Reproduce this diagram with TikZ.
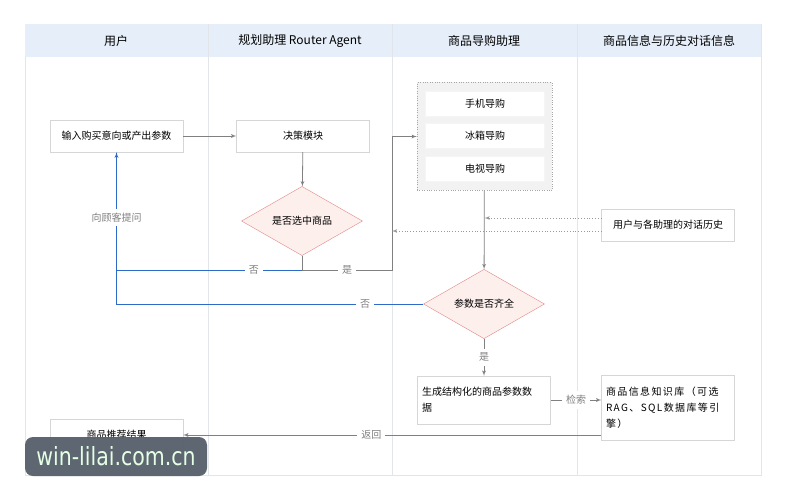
\documentclass[tikz,border=0pt]{standalone}
\usepackage{fontspec}
\setmainfont{Noto Sans CJK SC}
\newfontfamily\markfont{DejaVu Sans}
\newfontfamily\widefont[LetterSpace=14]{Noto Sans CJK SC}
\usetikzlibrary{arrows,shapes.geometric}

\definecolor{laneline}{HTML}{E2E5EA}
\definecolor{headblue}{HTML}{E6EEF9}
\definecolor{boxline}{HTML}{D6D6D6}
\definecolor{diafill}{HTML}{FCEFEC}
\definecolor{diaedge}{HTML}{E38A8A}
\definecolor{flowgray}{HTML}{808080}
\definecolor{flowblue}{HTML}{2E6BC9}
\definecolor{markgray}{HTML}{58616C}

\begin{document}
\begin{tikzpicture}[x=1pt,y=-1pt]
\tikzset{box/.style = {draw=boxline,fill=white,minimum width=133pt,minimum height=32pt,inner sep=2pt,font=\fontsize{10}{16}\selectfont}}
\tikzset{guide/.style = {draw=black!4,fill=white,minimum width=119pt,minimum height=25pt,font=\fontsize{10}{12}\selectfont}}
\tikzset{choice/.style = {diamond,draw=diaedge,fill=diafill,minimum width=121pt,minimum height=44pt,inner sep=0pt,font=\fontsize{10}{12}\selectfont}}
\tikzset{edge/.style = {->,> = latex',draw=flowgray,line width=0.8pt}}
\tikzset{back/.style = {->,> = latex',draw=flowblue,line width=0.9pt}}
\tikzset{hist/.style = {->,> = latex',draw=flowgray!80,dotted,line width=0.8pt}}
\tikzset{tag/.style = {fill=white,text=flowgray,inner sep=4pt,font=\fontsize{10}{12}\selectfont}}
\tikzset{head/.style = {font=\fontsize{12}{14}\selectfont}}

\useasboundingbox (0,0) rectangle (785,500);
\fill[white] (0,0) rectangle (785,500);

% swim lanes
\draw[laneline,line width=0.8pt] (25,24) rectangle (761,475);
\fill[headblue] (25.4,24.4) rectangle (760.6,57);
\foreach \x in {208,392,577} \draw[laneline,line width=0.8pt] (\x,24) -- (\x,475);

\node[head] (lane1) at (116,41) {用户};
\node[head] (lane2) at (300,41) {规划助理 Router Agent};
\node[head] (lane3) at (484,41) {商品导购助理};
\node[head] (lane4) at (669,41) {商品信息与历史对话信息};

% nodes
\node[box] (input) at (116.5,136) {输入购买意向或产出参数};
\node[box] (decide) at (303,136) {决策模块};
\node[choice] (picked) at (302,221) {是否选中商品};
\node[draw=flowgray!70,dotted,fill=black!5,minimum width=135pt,minimum height=108pt] (group) at (484.5,136.5) {};
\node[guide] (phone) at (485,103.5) {手机导购};
\node[guide] (fridge) at (485,136) {冰箱导购};
\node[guide] (tv) at (485,169) {电视导购};
\node[box] (history) at (668,225) {用户与各助理的对话历史};
\node[choice] (enough) at (484,304) {参数是否齐全};
\node[box,minimum height=48pt,text width=124pt,align=left] (gen) at (484,400) {生成结构化的商品参数数\\据};
\node[box,minimum height=65pt,text width=124pt,align=left] (kb) at (668,407.5) {\widefont 商品信息知识库（可选\\RAG、SQL数据库等引\\擎）};
\node[box] (result) at (116.5,435) {商品推荐结果};

\coordinate (split) at (302,270);
\coordinate (yesturn) at (392,270);
\coordinate (histA) at ([yshift=7pt]history.west);
\coordinate (histB) at ([yshift=-6pt]history.west);

% connectors
\draw[edge] (input) -- (decide);
\draw[edge] (decide) -- (picked);
\draw[flowgray,line width=0.8pt] (picked) -- (split);
\draw[edge] (split) -- node[tag]{是} (yesturn) |- (group);
\draw[back,-] (split) -- node[tag,pos=0.26]{否} (split -| input);
\draw[back] (enough) -- node[tag,pos=0.19]{否} (enough -| input) -- node[tag,pos=0.57]{向顾客提问} (input);
\draw[edge] (group) -- (enough);
\draw[hist] (histA) -- (histA -| group);
\draw[hist] (histB) -- (histB -| yesturn);
\draw[edge] (enough) -- node[tag]{是} (gen);
\draw[edge] (gen) -- node[tag]{检索} (gen -| kb.west);
\draw[edge] (kb.west |- result) -- node[tag,pos=0.55]{返回} (result);

% watermark
\node[fill=markgray,fill opacity=0.96,text opacity=1,rounded corners=8pt,minimum width=182pt,minimum height=39pt,text=white!90!green] (mark) at (116,456.5) {\markfont\fontsize{25}{28}\selectfont\scalebox{0.82}[1]{win-lilai.com.cn}};
\end{tikzpicture}
\end{document}
